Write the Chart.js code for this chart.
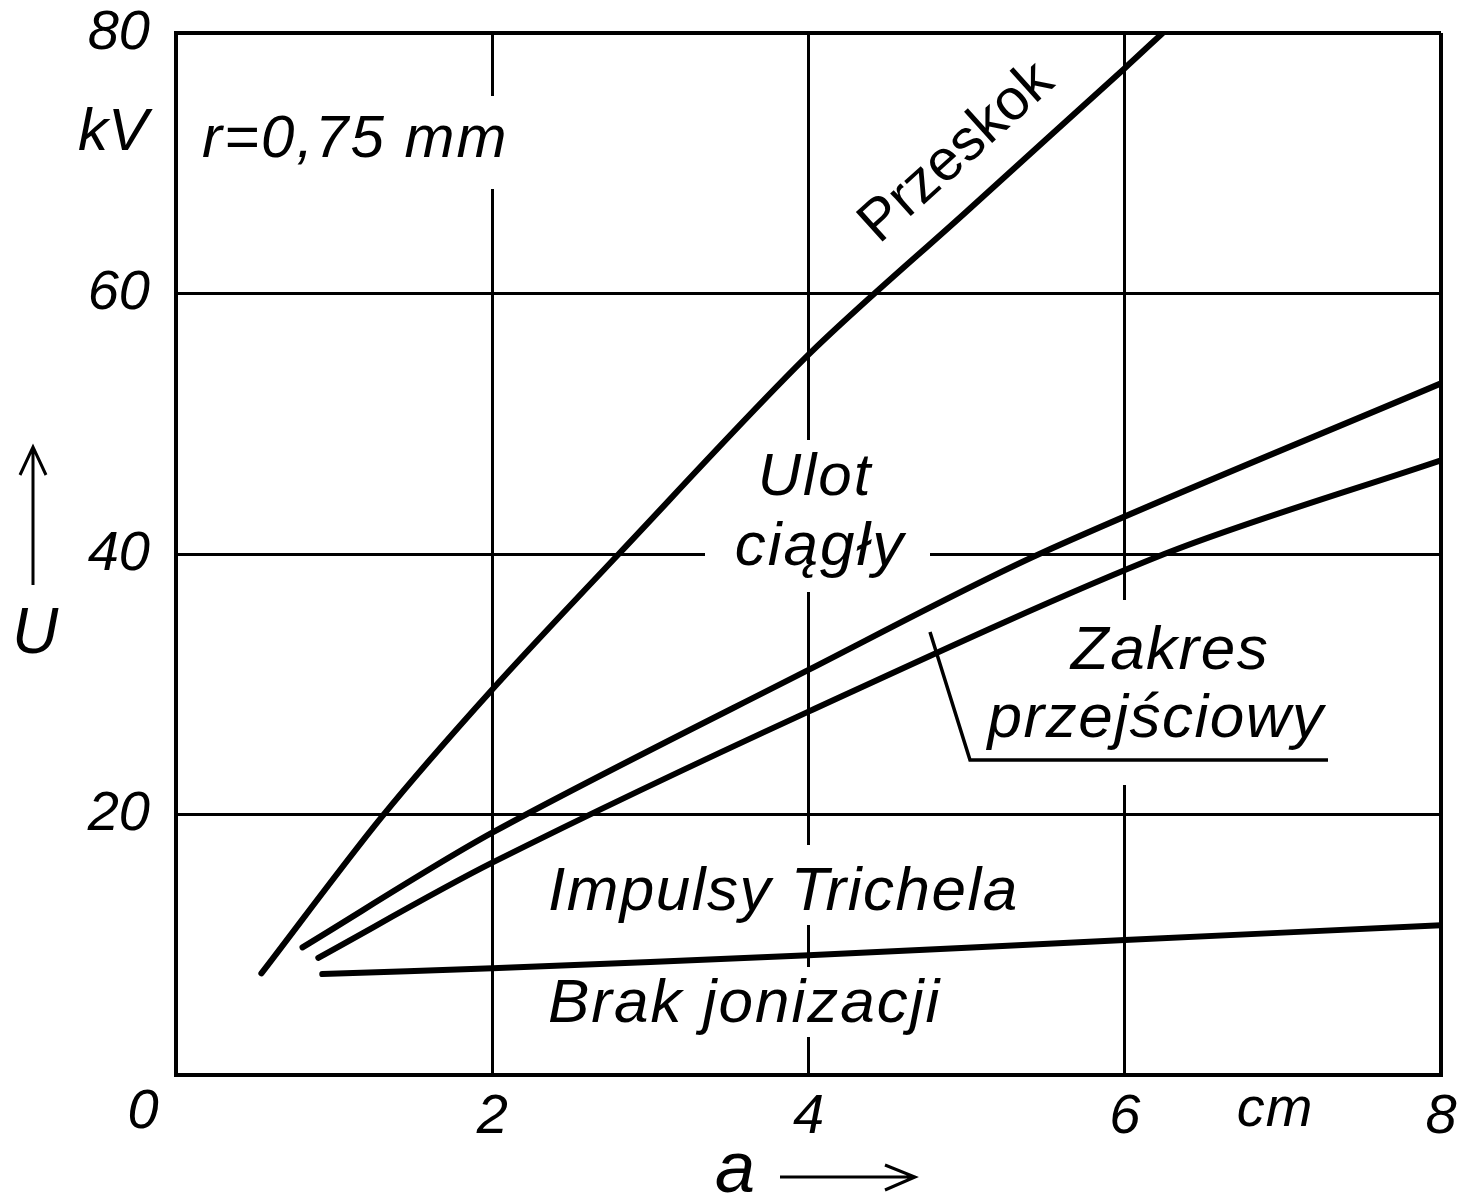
<!DOCTYPE html>
<html><head><meta charset="utf-8">
<script src="https://cdn.jsdelivr.net/npm/chart.js@4.4.1/dist/chart.umd.min.js"></script>
<style>html,body{margin:0;padding:0;background:#fff}canvas{display:block}</style>
</head><body>
<canvas id="c" width="1461" height="1199"></canvas>
<script>
// ---- data (a in cm, U in kV) ----
const xTicks = [0, 2, 4, 6, 8];
const yTicks = [0, 20, 40, 60, 80];
const przeskokX = [0.54, 1.3, 2.0, 2.8, 4.0, 5.0, 6.0, 6.24];
const przeskokY = [7.8, 19.8, 29.6, 40.0, 55.3, 66.3, 77.3, 80.0];
const ulotX = [0.8, 2.0, 4.0, 5.46, 8.0];
const ulotY = [9.8, 18.6, 31.1, 40.0, 53.1];
const zakresX = [0.9, 2.0, 4.0, 6.25, 8.0];
const zakresY = [9.0, 16.3, 27.9, 40.0, 47.2];
const trichelX = [0.925, 2.0, 4.0, 6.0, 8.0];
const trichelY = [7.75, 8.2, 9.2, 10.36, 11.5];

const FONT = '"Liberation Sans", Arial, sans-serif';
const toPts = (xs, ys) => xs.map((x, i) => ({x, y: ys[i]}));
const ds = (label, xs, ys) => ({
  label, data: toPts(xs, ys), borderColor: '#000', borderWidth: 6,
  pointRadius: 0, fill: false, tension: 0.3,
  borderCapStyle: 'round', borderJoinStyle: 'round'
});

function txt(ctx, s, x, y, size, align, italic = true, spacing = 0) {
  ctx.font = (italic ? 'italic ' : '') + size + 'px ' + FONT;
  ctx.letterSpacing = spacing + 'px';
  ctx.textAlign = align || 'center';
  ctx.textBaseline = 'middle';
  ctx.fillStyle = '#000';
  ctx.fillText(s, x, y);
  ctx.letterSpacing = '0px';
}
function noPad(s) { s.paddingTop = 0; s.paddingBottom = 0; s.paddingLeft = 0; s.paddingRight = 0; }

const annot = {
  id: 'annot',
  beforeDatasetsDraw(chart) {
    const ctx = chart.ctx;
    ctx.save();
    ctx.fillStyle = '#fff';
    ctx.fillRect(195, 96, 318, 93);     // r=0,75 mm
    ctx.fillRect(705, 440, 225, 152);   // Ulot ciągły
    ctx.fillRect(980, 600, 355, 185);   // Zakres przejściowy
    ctx.fillRect(540, 845, 485, 80);    // Impulsy Trichela
    ctx.fillRect(540, 967, 410, 70);    // Brak jonizacji
    ctx.restore();
  },
  afterDatasetsDraw(chart) {
    const ctx = chart.ctx;
    const xs = chart.scales.x;
    ctx.save();
    txt(ctx, 'r=0,75 mm', 202, 140, 60, 'left', true, 2);
    txt(ctx, 'kV', 148, 133, 60, 'right');
    txt(ctx, '0', xs.getPixelForValue(0) - 33, 1112, 56, 'center');
    txt(ctx, 'cm', 1275, 1110, 56, 'center', true, 1);
    ctx.save();
    ctx.translate(957, 153);
    ctx.rotate(-42 * Math.PI / 180);
    txt(ctx, 'Przeskok', 0, 0, 58, 'center', false);
    ctx.restore();
    txt(ctx, 'Ulot', 815, 478, 60, 'center', true, 2);
    txt(ctx, 'ciągły', 820, 548, 62, 'center', true, 2);
    txt(ctx, 'Zakres', 1170, 652, 62, 'center', true, 1.5);
    txt(ctx, 'przejściowy', 1156, 720, 62, 'center', true, 1.5);
    txt(ctx, 'Impulsy Trichela', 548, 893, 62, 'left', true, 1.5);
    txt(ctx, 'Brak jonizacji', 548, 1005, 62, 'left', true, 2);
    ctx.strokeStyle = '#000';
    ctx.lineWidth = 3.5;
    ctx.beginPath();
    ctx.moveTo(930, 632); ctx.lineTo(970, 760); ctx.lineTo(1328, 760);
    ctx.stroke();
    txt(ctx, 'U', 35, 635, 64, 'center');
    ctx.lineWidth = 3;
    ctx.beginPath();
    ctx.moveTo(33, 585); ctx.lineTo(33, 447);
    ctx.moveTo(20, 475); ctx.lineTo(33, 447); ctx.lineTo(46, 475);
    ctx.stroke();
    txt(ctx, 'a', 735, 1172, 72, 'center');
    ctx.beginPath();
    ctx.moveTo(780, 1177); ctx.lineTo(915, 1177);
    ctx.moveTo(885, 1165); ctx.lineTo(915, 1177); ctx.lineTo(885, 1190);
    ctx.stroke();
    ctx.restore();
  }
};

new Chart(document.getElementById('c'), {
  type: 'line',
  data: { datasets: [
    ds('Przeskok', przeskokX, przeskokY),
    ds('Ulot ciągły', ulotX, ulotY),
    ds('Zakres przejściowy', zakresX, zakresY),
    ds('Impulsy Trichela', trichelX, trichelY)
  ]},
  options: {
    responsive: false, animation: false, devicePixelRatio: 1,
    layout: { padding: { top: 33, right: 20, left: 0, bottom: 0 } },
    plugins: { legend: { display: false }, tooltip: { enabled: false } },
    scales: {
      x: {
        type: 'linear', min: 0, max: 8,
        afterFit: s => { s.height = 124; noPad(s); },
        afterBuildTicks: s => { s.ticks = xTicks.map(v => ({value: v})); },
        grid: { color: '#000', lineWidth: c => (c.tick && c.tick.value === 8 ? 4 : 3), drawTicks: false },
        border: { display: true, color: '#000', width: 4 },
        ticks: { padding: 14, color: '#000', font: { family: FONT, size: 56, style: 'italic', lineHeight: 1 },
          callback: v => (v === 0 ? '' : String(v)), maxRotation: 0 }
      },
      y: {
        type: 'linear', min: 0, max: 80,
        afterFit: s => { s.width = 176; noPad(s); },
        afterBuildTicks: s => { s.ticks = yTicks.map(v => ({value: v})); },
        grid: { color: '#000', lineWidth: c => (c.tick && c.tick.value === 80 ? 4 : 3), drawTicks: false },
        border: { display: true, color: '#000', width: 4 },
        ticks: { padding: 26, color: '#000', font: { family: FONT, size: 56, style: 'italic', lineHeight: 1 },
          callback: v => (v === 0 ? '' : String(v)) }
      }
    }
  },
  plugins: [annot]
});
</script>
</body></html>
